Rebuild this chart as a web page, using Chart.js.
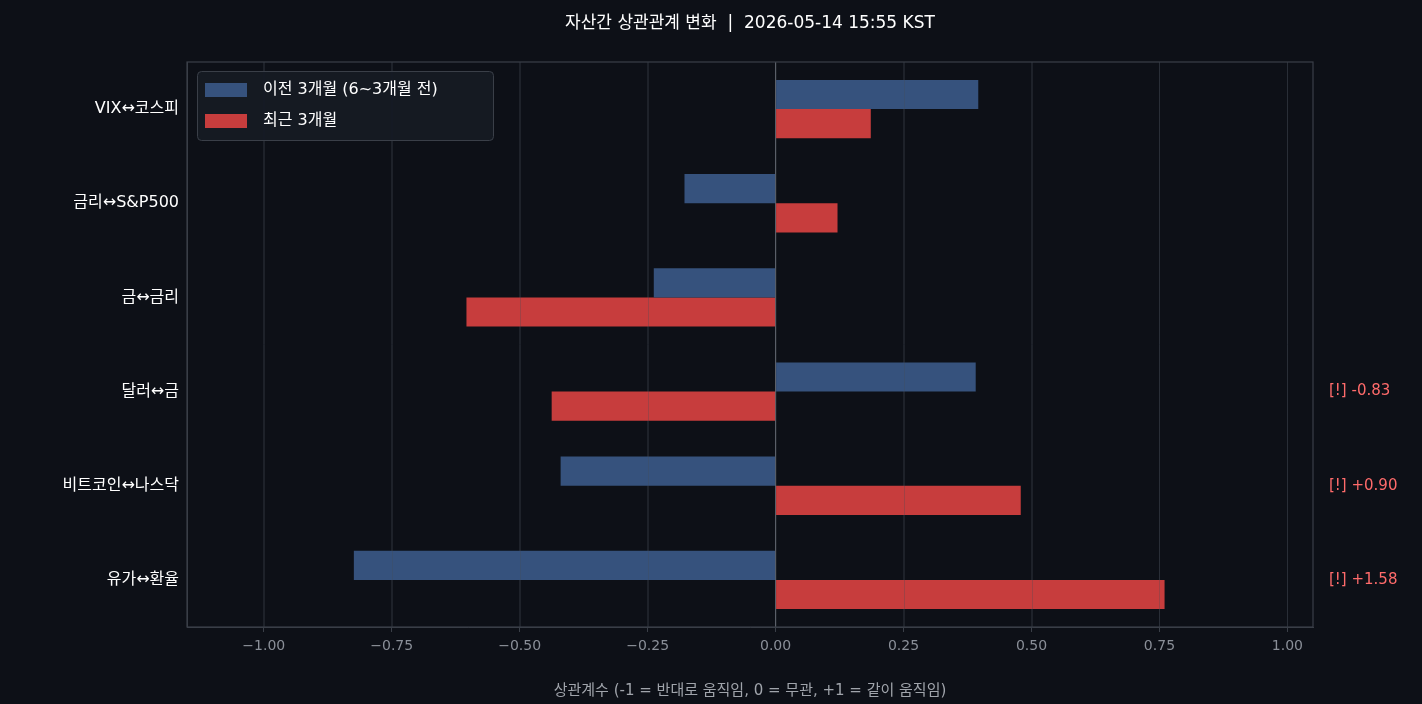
<!DOCTYPE html>
<html><head><meta charset="utf-8">
<script src="https://cdn.jsdelivr.net/npm/chart.js@4/dist/chart.umd.min.js"></script>
<style>html,body{margin:0;background:#0d1017;}#w{width:1422px;height:704px;}</style>
</head><body><div id="w"><canvas id="c"></canvas></div>
<script>
const categories = ["VIX↔코스피","금리↔S&P500","금↔금리","달러↔금","비트코인↔나스닥","유가↔환율"];
const prevValues = [0.396,-0.178,-0.238,0.391,-0.42,-0.824];
const recentValues = [0.186,0.121,-0.604,-0.4375,0.479,0.760];
const annotations = ["","","","[!] -0.83","[!] +0.90","[!] +1.58"];
const seriesLabels = ["이전 3개월 (6~3개월 전)","최근 3개월"];
const titleText = "자산간 상관관계 변화  |  2026-05-14 15:55 KST";
const FONT = "'DejaVu Sans','Noto Sans CJK KR',sans-serif";

const annPlugin = {id:'ann', afterDraw(ch){
  const c=ch.ctx, y=ch.scales.y, a=ch.chartArea;
  c.save();
  c.font="17px "+FONT; c.fillStyle="#ffffff"; c.textAlign="center"; c.textBaseline="middle";
  c.fillText(titleText, 750, 24);
  c.strokeStyle="#3a3f48"; c.lineWidth=1.2; c.strokeRect(a.left,a.top,a.right-a.left,a.bottom-a.top);
  c.font="15px "+FONT; c.fillStyle="#ff6b6b"; c.textAlign="left";
  annotations.forEach((t,i)=>{ if(t) c.fillText(t, a.right+16, y.getPixelForValue(i)); });
  const x0=a.left+10, y0=a.top+9;
  c.fillStyle="rgba(22,27,36,0.92)"; c.strokeStyle="#3a3f48"; c.lineWidth=1;
  c.beginPath(); c.roundRect(x0+0.5,y0+0.5,296,69,4); c.fill(); c.stroke();
  const cols=["#36527d","#c73d3d"];
  c.font="16px "+FONT;
  seriesLabels.forEach((l,i)=>{ const yy=y0+19+i*31;
    c.fillStyle=cols[i]; c.fillRect(x0+8,yy-7,42,14);
    c.fillStyle="#ffffff"; c.fillText(l,x0+66,yy); });
  c.restore();
}};
const zeroPlugin={id:'zero', beforeDatasetsDraw(ch){
  const c=ch.ctx,x=ch.scales.x.getPixelForValue(0),a=ch.chartArea;
  c.save(); c.strokeStyle="#5a5f68"; c.lineWidth=1.2; c.beginPath(); c.moveTo(x,a.top); c.lineTo(x,a.bottom); c.stroke(); c.restore();
}, afterDatasetsDraw(ch){
  const c=ch.ctx,a=ch.chartArea; c.save(); c.strokeStyle="rgba(70,75,85,0.3)"; c.lineWidth=1;
  [-1,-0.75,-0.5,-0.25,0.25,0.5,0.75,1].forEach(v=>{const x=Math.round(ch.scales.x.getPixelForValue(v))+0.5;c.beginPath();c.moveTo(x,a.top);c.lineTo(x,a.bottom);c.stroke();});
  c.restore();
}};

new Chart(document.getElementById('c'),{
  type:'bar',
  data:{labels:categories,datasets:[
    {label:seriesLabels[0],data:prevValues,backgroundColor:"#36527d"},
    {label:seriesLabels[1],data:recentValues,backgroundColor:"#c73d3d"}]},
  options:{indexAxis:'y',responsive:true,maintainAspectRatio:false,animation:false,
    datasets:{bar:{barPercentage:1,categoryPercentage:0.62}},
    layout:{padding:{left:0,right:109,top:62,bottom:0}},
    plugins:{legend:{display:false},tooltip:{enabled:false},title:{display:false}},
    scales:{
      x:{min:-1.15,max:1.05,border:{color:"#3a3f48"},
        afterFit(s){s.height=77;},
        grid:{color:"rgba(70,75,85,0.3)",drawTicks:true,tickColor:"#3a3f48",tickLength:5},
        afterBuildTicks(s){s.ticks=[-1,-0.75,-0.5,-0.25,0,0.25,0.5,0.75,1].map(v=>({value:v}));},
        ticks:{color:"#8a8f98",font:{family:FONT,size:14},padding:6,callback:v=>(v<0?"−":"")+Math.abs(v).toFixed(2)},
        title:{display:true,text:"상관계수 (-1 = 반대로 움직임, 0 = 무관, +1 = 같이 움직임)",color:"#a0a4ab",font:{family:FONT,size:15},padding:{top:4}}},
      y:{border:{color:"#3a3f48"},afterFit(s){s.width=187;},grid:{display:false,drawTicks:true,tickColor:"#3a3f48",tickLength:5},
        ticks:{color:"#ffffff",font:{family:FONT,size:16}}}
    }},
  plugins:[annPlugin,zeroPlugin]
});
</script></body></html>
